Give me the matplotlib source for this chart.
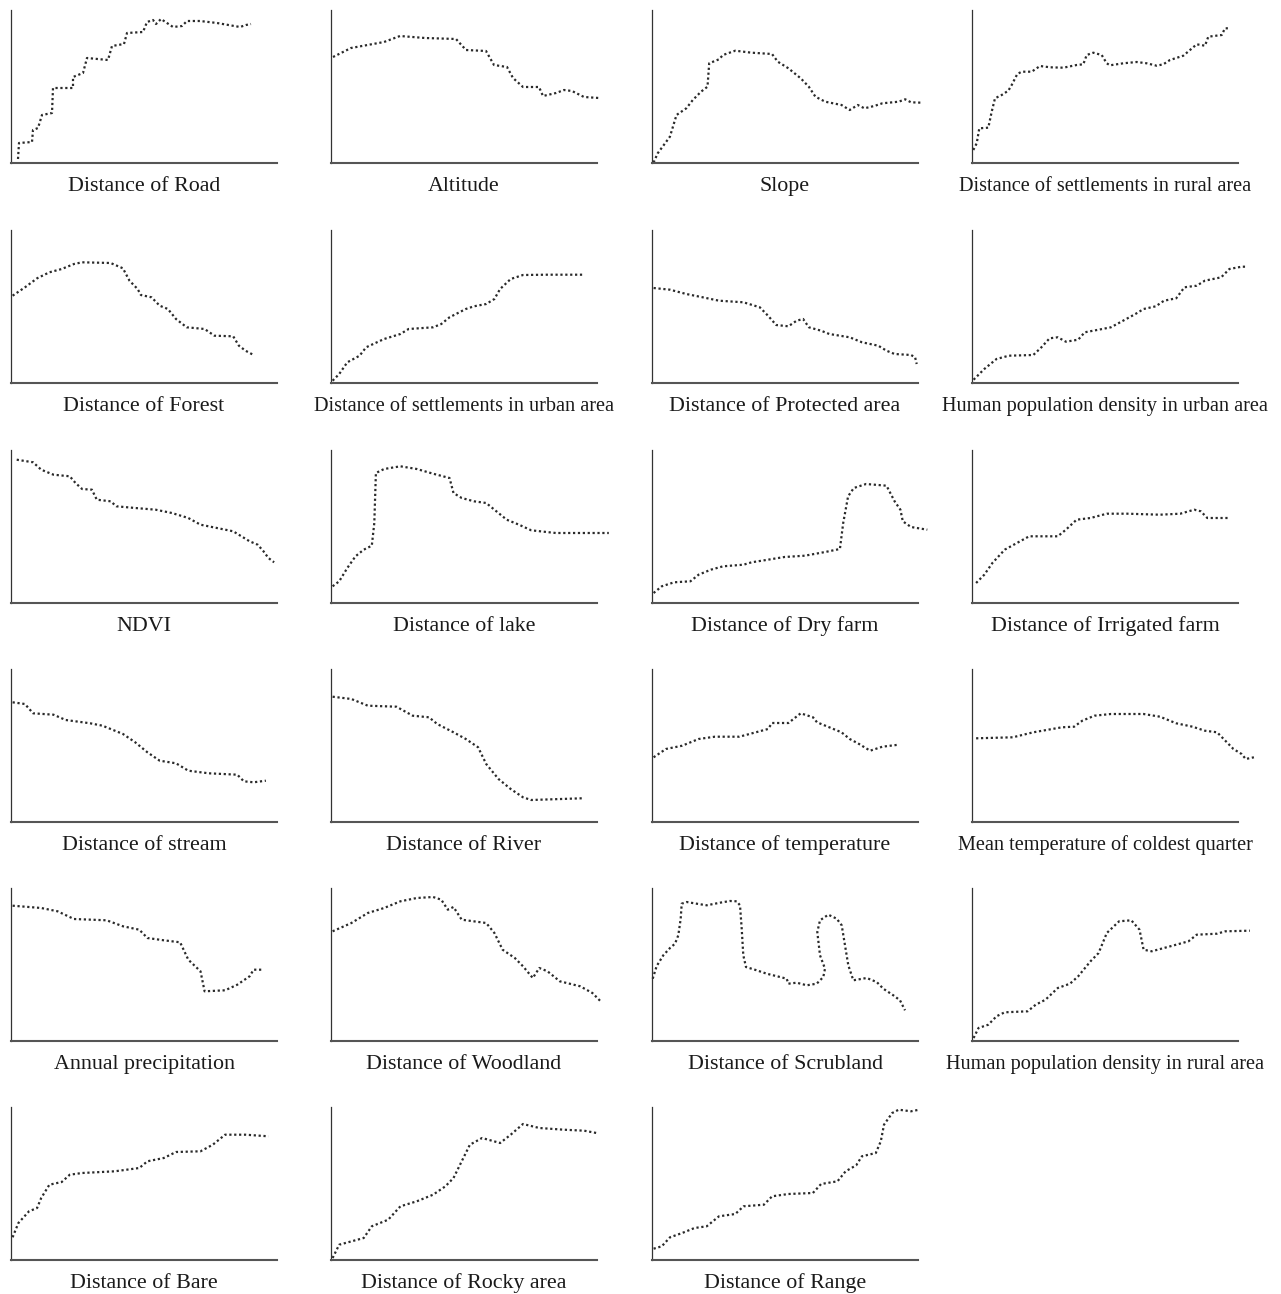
import matplotlib
matplotlib.use("Agg")
import matplotlib.pyplot as plt

# partial response curves
# x: 0..266 along the predictor, y: 0..153 response (axis units)
road_x = [7, 8, 21, 22, 27, 31, 41, 42, 62, 62, 72, 76, 97, 101, 113, 116, 132, 136, 142, 145, 150, 162, 171, 176, 189, 206, 229, 235, 240]
road_y = [4, 20, 21, 33, 35, 48, 50, 75, 75, 86, 90, 105, 103, 117, 119, 130, 131, 141, 143, 139, 144, 136, 137, 142, 142, 140, 136, 138, 139]

alt_x = [2, 20, 53, 69, 94, 125, 135, 155, 163, 176, 182, 192, 208, 212, 225, 233, 241, 253, 268]
alt_y = [106, 115, 121, 127, 125, 124, 113, 112, 98, 96, 85, 76, 76, 67, 70, 73, 72, 66, 65]

slope_x = [1.6, 5.7, 17.9, 24.5, 34.3, 40.8, 49, 55.5, 57.2, 67, 71, 83.3, 99.6, 120, 125.8, 136.4, 148.7, 156.8, 163.4, 173.2, 189.5, 197.7, 205.8, 212.4, 222.2, 230.4, 246.7, 253.2, 259, 269.6]
slope_y = [0.5, 9.7, 26.3, 48, 54.7, 63, 71.3, 76.3, 99.7, 103.7, 108, 112.3, 110.3, 109, 101.3, 94.7, 84.7, 76.3, 66.3, 61.3, 58, 53, 58, 54.7, 57, 59.7, 61.3, 63.7, 60.7, 60.3]

rural_x = [1.3, 4.7, 7.3, 16.3, 19.7, 23, 29.7, 36.3, 39.7, 45.3, 49.7, 59.7, 68, 78, 91.3, 104.7, 111.3, 114.7, 121.3, 129.7, 134.7, 138, 151.3, 164.7, 174.7, 184.7, 191.3, 198, 211.3, 218, 224.7, 233, 236.3, 249.7, 253, 256.3]
rural_y = [13, 19.7, 34.7, 35.3, 51.3, 64.7, 68, 72.3, 78, 89, 91.3, 91.3, 97, 95.7, 95.3, 98, 98.7, 108, 110.3, 108, 99.7, 97.7, 99.7, 101, 99.7, 97.3, 98.7, 103, 107.3, 113, 118.7, 117.3, 126.3, 128, 134.7, 134.7]

forest_x = [1.6, 14, 26.1, 38.4, 50.7, 63, 71.1, 99.6, 111.9, 118.5, 126.6, 129.9, 140.5, 148.7, 156.9, 165, 175.7, 193.6, 203.4, 222.2, 227.9, 234.5, 242.6]
forest_y = [87.3, 95.7, 104.7, 110.7, 114, 119, 120.7, 120, 114.7, 102.3, 94, 88, 85.7, 77.3, 74, 64, 55.7, 54, 47.3, 46.7, 37.3, 32.3, 28]

urbset_x = [1.6, 8.2, 16.3, 28.6, 35.1, 53.1, 69.4, 77.6, 102.1, 110.3, 118.5, 134.8, 143, 155.2, 163.4, 169.1, 179.7, 192, 216.5, 253.3]
urbset_y = [2.3, 9, 20.7, 27.3, 35.7, 44, 49, 54, 55.7, 59, 65.7, 74, 76.7, 79, 84, 94, 104, 108, 108.3, 108.3]

prot_x = [1.6, 18, 34.3, 50.7, 67, 91.5, 107.8, 116, 124.2, 136.4, 144.6, 151.1, 156.9, 169.1, 177.3, 197.7, 210, 226.3, 234.5, 242.6, 259, 263.1, 264.7]
prot_y = [95, 93.3, 89, 85.7, 82.3, 80.7, 75.7, 67.3, 58, 56.7, 62.3, 64, 55.7, 52.3, 49, 45.7, 40.7, 37.3, 32.3, 29, 28, 25.7, 19]

urbpop_x = [1.6, 12.3, 24.5, 36.8, 61.3, 69.4, 77.6, 85.8, 93.9, 106.2, 112.7, 126.6, 138.9, 151.1, 163.4, 171.6, 183.8, 192, 204.2, 212.4, 224.7, 232.8, 249.2, 257.4, 269.6, 273.7]
urbpop_y = [3.3, 14, 24, 27.3, 28, 35.7, 44.7, 45.7, 41.3, 43.3, 50.7, 53.3, 55.7, 62.3, 69, 74, 76.7, 82.3, 84.7, 95.7, 97.3, 102.3, 105.7, 114, 116.3, 116.3]

ndvi_x = [5.7, 22.1, 30.2, 42.5, 58.8, 64.5, 71.1, 80.9, 85.8, 99.6, 105.4, 124.2, 144.6, 160.9, 177.3, 189.5, 205.9, 222.2, 230.4, 238.6, 246.7, 252.5, 257.4, 263.1]
ndvi_y = [143.3, 140.7, 133.3, 128.3, 126.7, 120, 114, 113.3, 103.3, 101.7, 96.7, 95, 93.3, 90, 85, 78.3, 75, 71.7, 66.7, 61.7, 58.3, 51.7, 45, 40.7]

lake_x = [1.6, 8.2, 16.3, 24.5, 32.7, 40.8, 43.3, 44.9, 53.1, 69.4, 85.8, 102.1, 118.5, 122.5, 130.7, 143, 155.2, 163.4, 175.7, 188, 200.2, 224.7, 277.8]
lake_y = [16.7, 21.7, 35, 46.7, 53.3, 57.3, 80, 130, 134, 136.7, 134, 129.3, 125, 110, 105, 101.7, 100, 93.3, 83.3, 78.3, 72.7, 70, 70]

dry_x = [1.6, 9.8, 22.1, 38.4, 46.6, 58.8, 71.1, 91.5, 99.6, 116, 132.4, 152.8, 173.2, 187.9, 191.2, 196.1, 201.8, 214.1, 234.5, 242.6, 248.4, 250.8, 259, 275.3]
dry_y = [10, 16.7, 20.7, 21.7, 28.3, 33.3, 36.7, 38.3, 40.7, 43.3, 46, 47.3, 51, 54, 80, 106.7, 115, 119, 117.3, 101.7, 93.3, 81.7, 76, 73.3]

irr_x = [4.1, 12.3, 20.4, 32.7, 44.9, 57.2, 85.8, 93.9, 104.6, 118.5, 134.8, 155.2, 187.9, 208.3, 222.2, 228.8, 235.3, 257.4]
irr_y = [20, 28.3, 40, 53.3, 60, 66.7, 66.7, 73.3, 83.3, 85, 89.3, 89.3, 88.3, 89.3, 93.3, 91.7, 85, 85]

stream_x = [1.6, 13.9, 22.1, 42.5, 54.7, 79.2, 91.5, 112, 124.2, 136.4, 148.7, 165, 177.3, 197.7, 226.3, 232.8, 242.6, 254.9]
stream_y = [119.7, 118, 108.7, 107.3, 102, 98.7, 96.3, 88, 79.7, 69.7, 61.3, 58.7, 51.3, 48.7, 47.3, 40.7, 39.7, 41.3]

river_x = [1.6, 20.4, 36.8, 65.4, 81.7, 98, 106.2, 122.5, 134.8, 147.1, 155.2, 167.5, 179.7, 192, 200.2, 250.8]
river_y = [125.3, 123, 116.3, 115.3, 106.3, 104.7, 98, 89.7, 83, 74.7, 58, 43, 33, 24.7, 22, 23.7]

temp_x = [1.6, 13.9, 30.2, 46.6, 62.9, 87.4, 103.8, 116, 120.1, 136.4, 148.7, 161, 165, 177.3, 189.5, 197.7, 205.9, 218.1, 230.4, 246.7]
temp_y = [64.7, 73, 76.3, 83, 85.3, 85.3, 89.7, 93, 99, 99, 108.7, 104.7, 99.7, 94.7, 89.7, 83, 78.7, 71.3, 75.3, 77.3]

cold_x = [4.1, 40.8, 61.3, 89.9, 102.1, 110.3, 122.5, 138.9, 171.6, 188, 204.2, 220.6, 232.8, 245.1, 253.3, 261.4, 269.6, 273.7, 281.9]
cold_y = [83.7, 84.7, 89.7, 94.7, 95.3, 101.3, 106.3, 108, 108, 105.3, 98.7, 95.3, 91.3, 89.7, 81.3, 73, 68, 63, 64.7]

precip_x = [1.6, 30.2, 46.6, 62.9, 95.6, 112, 128.3, 136.4, 152.8, 169.1, 177.3, 189.5, 193.6, 214.1, 226.3, 238.6, 242.6, 250.8]
precip_y = [135.3, 133, 129.7, 122, 120.7, 114.7, 111.3, 103, 100.7, 98.7, 81.3, 69.7, 49.7, 50.7, 56.3, 64.7, 71.3, 71.3]

wood_x = [1.6, 20.4, 36.8, 53.1, 69.4, 85.8, 102.1, 110.3, 116.8, 122.5, 130.7, 155.2, 163.4, 171.6, 183.8, 192, 201.8, 208.3, 216.5, 228.8, 249.2, 261.4, 269.6]
wood_y = [109.7, 118, 128, 133, 139.7, 143, 144, 141.3, 131.3, 134, 121.3, 118, 108, 91.3, 83, 74.7, 63, 73, 69.7, 59.7, 54.7, 48, 39.7]

scrub_x = [0.7, 4.7, 11.3, 18, 23, 26.3, 28.7, 29.7, 34.7, 44.7, 54.7, 68, 78, 84.7, 88, 89.7, 91.3, 94, 104.7, 114.7, 128, 134.7, 136.3, 144.7, 154.7, 164.7, 171.3, 173, 168, 165.3, 168, 176.3, 184.7, 189.7, 193, 196.3, 201.3, 214.7, 224.7, 231.3, 241.3, 248, 253]
scrub_y = [62.3, 75, 85.7, 93, 97.3, 105.7, 122.3, 137.3, 139, 137.3, 135.7, 138.3, 140, 139.7, 135.7, 112.3, 85.7, 74, 70.7, 67.3, 64, 62.3, 57.3, 58.3, 55.7, 57.3, 64, 72.3, 85.7, 109, 120.7, 126.3, 122.3, 115.7, 95.7, 75.7, 60.7, 63, 59, 52.3, 45.7, 40.7, 30.7]

rurpop_x = [1.6, 6.5, 16.3, 24.5, 32.7, 55.6, 63.7, 73.5, 85.8, 98, 106.2, 118.5, 126.6, 134.8, 147.1, 159.3, 167.5, 171.6, 179.7, 204.2, 216.5, 224.7, 245.1, 253.3, 277.8]
rurpop_y = [3, 13, 16.3, 24.7, 28.7, 29.7, 36.3, 41.3, 53, 57.3, 64.7, 79.7, 88, 108, 119.7, 120.7, 111.3, 91.3, 89.7, 96.3, 99.7, 106.3, 107.3, 109.7, 110.3]

bare_x = [1.6, 7.4, 18, 26.1, 30.2, 38.4, 50.7, 58.8, 71.1, 103.8, 128.3, 136.4, 152.8, 165, 189.5, 201.8, 214.1, 234.5, 257.4]
bare_y = [22.7, 37, 48.7, 52, 62, 75.3, 78, 85.3, 87, 88.7, 92, 98.7, 102, 108, 108.7, 115.3, 125.3, 125.3, 123.7]

rocky_x = [1.6, 8.2, 32.7, 40.8, 57.2, 69.4, 85.8, 102.1, 114.4, 122.5, 130.7, 138.9, 151.1, 169.1, 179.7, 192, 208.3, 232.8, 253.3, 265.5]
rocky_y = [2, 15.3, 22, 33.7, 40.3, 53.7, 58.7, 65.3, 73.7, 82, 98.7, 115.3, 122, 117, 125.3, 136, 132, 130.3, 129.3, 127]

range_x = [1.6, 9.8, 18, 30.2, 42.5, 54.7, 67, 83.3, 91.5, 111.9, 120.1, 136.4, 160.9, 169.1, 185.5, 193.6, 204.2, 209.9, 223.8, 228.8, 232, 240.2, 246.7, 259, 267.2]
range_y = [11.3, 13.7, 22.7, 27, 32, 33.7, 43.7, 46, 53.7, 55.3, 63.7, 66, 67, 76, 78.7, 88.7, 94.7, 103.7, 107, 118.7, 135.3, 147, 150.3, 148.7, 150.3]

labels = ["Distance of Road", "Altitude", "Slope", "Distance of settlements in rural area",
          "Distance of Forest", "Distance of settlements in urban area", "Distance of Protected area",
          "Human population density in urban area",
          "NDVI", "Distance of lake", "Distance of Dry farm", "Distance of Irrigated farm",
          "Distance of stream", "Distance of River", "Distance of temperature",
          "Mean temperature of coldest quarter",
          "Annual precipitation", "Distance of Woodland", "Distance of Scrubland",
          "Human population density in rural area",
          "Distance of Bare", "Distance of Rocky area", "Distance of Range"]

curves = [(road_x, road_y), (alt_x, alt_y), (slope_x, slope_y), (rural_x, rural_y),
          (forest_x, forest_y), (urbset_x, urbset_y), (prot_x, prot_y), (urbpop_x, urbpop_y),
          (ndvi_x, ndvi_y), (lake_x, lake_y), (dry_x, dry_y), (irr_x, irr_y),
          (stream_x, stream_y), (river_x, river_y), (temp_x, temp_y), (cold_x, cold_y),
          (precip_x, precip_y), (wood_x, wood_y), (scrub_x, scrub_y), (rurpop_x, rurpop_y),
          (bare_x, bare_y), (rocky_x, rocky_y), (range_x, range_y)]

W, H = 1281, 1294
fig = plt.figure(figsize=(W / 100, H / 100), dpi=100)

col_left = [11, 331, 652, 972]
row_top = [10, 230, 450, 669, 888, 1107]
ax_w, ax_h = 266, 153

for i, (lab, (xs, ys)) in enumerate(zip(labels, curves)):
    r, c = divmod(i, 4)
    ax = fig.add_axes([col_left[c] / W, 1 - (row_top[r] + ax_h) / H, ax_w / W, ax_h / H])
    ax.plot(xs, ys, color="#2a2a2a", lw=1.6, linestyle=(0, (1, 1.2)),
            dash_capstyle="butt", clip_on=False)
    ax.set_xlim(0, 266)
    ax.set_ylim(0, 153)
    ax.set_xticks([])
    ax.set_yticks([])
    ax.spines["top"].set_visible(False)
    ax.spines["right"].set_visible(False)
    ax.spines["left"].set_color("#333333")
    ax.spines["left"].set_linewidth(0.9)
    ax.spines["bottom"].set_color("#555555")
    ax.spines["bottom"].set_linewidth(1.5)
    fs = 14.6 if len(lab) > 30 else 15.8
    ax.text(0.5, -23.5 / ax_h, lab, transform=ax.transAxes, ha="center", va="center",
            fontsize=fs, family="Liberation Serif", color="#1a1a1a")

fig.savefig("out.png", dpi=100)
